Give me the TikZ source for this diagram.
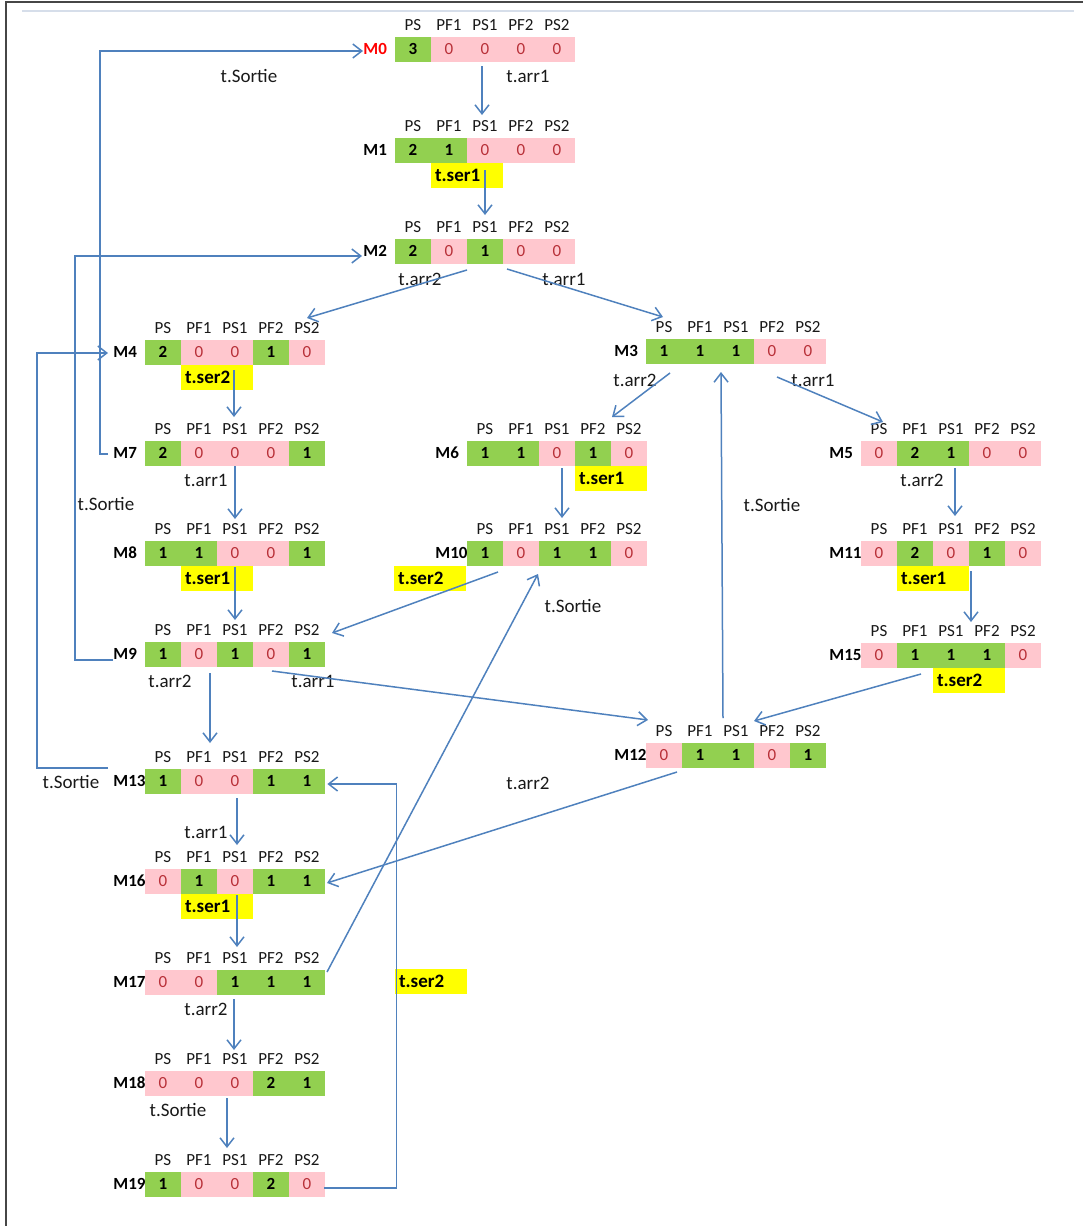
\documentclass[tikz,border=0pt]{standalone}
\usepackage{fontspec}
\setmainfont{Carlito}
\usetikzlibrary{arrows.meta,calc}

\definecolor{cellg}{RGB}{146,208,80}
\definecolor{cellp}{RGB}{255,199,206}
\definecolor{txtg}{RGB}{0,0,0}
\definecolor{txtp}{RGB}{184,48,56}
\definecolor{linkblue}{RGB}{79,129,189}
\definecolor{tagyellow}{RGB}{255,255,0}
\definecolor{framegray}{RGB}{70,70,70}
\definecolor{rulegray}{RGB}{214,222,234}

% column headers of a marking
\newcommand\hdrname[1]{\ifcase#1\or PS\or PF1\or PS1\or PF2\or PS2\fi}
% weight of the value in a filled / empty cell
\newcommand\wtg{\bfseries}
\newcommand\wtp{\mdseries}

% one marking: id, name, left x, centre y, list of colour/value pairs
\newcommand\mk[5]{%
  \node[mlab] (#1l) at (#3-32,#4) {#2};
  \foreach[count=\i] \s/\v in {#5}{
    \node[cell, fill=cell\s, text=txt\s] (#1c\i) at ({#3+36*\i-18},#4) {\csname wt\s\endcsname\v};
    \node[hdr] (#1h\i) at ({#3+36*\i-18},#4-24) {\hdrname\i};
  }%
}

\tikzset{
  cell/.style={minimum width=18pt, minimum height=12.5pt, inner sep=0pt,
    font=\fontsize{8.5}{10}\selectfont},
  hdr/.style={inner sep=0pt, text=black!90, font=\fontsize{8.5}{10}\selectfont},
  mlab/.style={anchor=west, inner sep=0pt, font=\fontsize{8.5}{10}\selectfont\bfseries},
  tlab/.style={inner sep=0pt, text=black!90, font=\fontsize{9.5}{11}\selectfont},
  ylab/.style={fill=tagyellow, minimum height=12.5pt, text width=32pt, align=left,
    inner xsep=2pt, inner ysep=0pt, font=\fontsize{9.5}{11}\selectfont\bfseries},
  conn/.style={draw=linkblue, line width=0.75pt,
    -{Straight Barb[length=4.5pt,width=7pt,line width=0.75pt]}},
}

\begin{document}
\begin{tikzpicture}[x=0.5pt,y=-0.5pt]
\useasboundingbox (0,0) rectangle (1083,1226);

% page frame
\draw[framegray, line width=1pt] (5.5,1226) -- (5.5,2) -- (1083,2);
\draw[rulegray, line width=1.2pt] (22,11) -- (1074,11);

% markings
\mk{m0}{\textcolor{red}{M0}}{395}{49}{g/3,p/0,p/0,p/0,p/0}
\mk{m1}{M1}{395}{150}{g/2,g/1,p/0,p/0,p/0}
\mk{m2}{M2}{395}{251}{g/2,p/0,g/1,p/0,p/0}
\mk{m4}{M4}{145}{352}{g/2,p/0,p/0,g/1,p/0}
\mk{m3}{M3}{646}{351}{g/1,g/1,g/1,p/0,p/0}
\mk{m7}{M7}{145}{453}{g/2,p/0,p/0,p/0,g/1}
\mk{m6}{M6}{467}{453}{g/1,g/1,p/0,g/1,p/0}
\mk{m5}{M5}{861}{453}{p/0,g/2,g/1,p/0,p/0}
\mk{m8}{M8}{145}{553}{g/1,g/1,p/0,p/0,g/1}
\mk{m10}{M10}{467}{553}{g/1,p/0,g/1,g/1,p/0}
\mk{m11}{M11}{861}{553}{p/0,g/2,p/0,g/1,p/0}
\mk{m9}{M9}{145}{654}{g/1,p/0,g/1,p/0,g/1}
\mk{m15}{M15}{861}{655}{p/0,g/1,g/1,g/1,p/0}
\mk{m12}{M12}{646}{755}{p/0,g/1,g/1,p/0,g/1}
\mk{m13}{M13}{145}{781}{g/1,p/0,p/0,g/1,g/1}
\mk{m16}{M16}{145}{881}{p/0,g/1,p/0,g/1,g/1}
\mk{m17}{M17}{145}{982}{p/0,p/0,g/1,g/1,g/1}
\mk{m18}{M18}{145}{1083}{p/0,p/0,p/0,g/2,g/1}
\mk{m19}{M19}{145}{1184}{g/1,p/0,p/0,g/2,p/0}

% service transitions (yellow tags)
\node[ylab, anchor=north west] (s1) at (m1c2.south west) {t.ser1};
\node[ylab, anchor=north west] (s4) at (m4c2.south west) {t.ser2};
\node[ylab, anchor=north west] (s6) at (m6c4.south west) {t.ser1};
\node[ylab, anchor=north west] (s8) at (m8c2.south west) {t.ser1};
\node[ylab, anchor=north east] (s10) at (m10c1.south west) {t.ser2};
\node[ylab, anchor=north west] (s11) at (m11c2.south west) {t.ser1};
\node[ylab, anchor=north west] (s15) at (m15c3.south west) {t.ser2};
\node[ylab, anchor=north west] (s16) at (m16c2.south west) {t.ser1};
\node[ylab] (s19) at (431,981.5) {t.ser2};

% other transition labels
\node[tlab] (t0a) at (249,76) {t.Sortie};
\node[tlab] (t0b) at (528,76) {t.arr1};
\node[tlab] (t2a) at (420,279) {t.arr2};
\node[tlab] (t2b) at (564,279) {t.arr1};
\node[tlab] (t3a) at (635,380) {t.arr2};
\node[tlab] (t3b) at (813,380) {t.arr1};
\node[tlab] (t7) at (206,480) {t.arr1};
\node[tlab] (tl1) at (106,504) {t.Sortie};
\node[tlab] (t5) at (922,480) {t.arr2};
\node[tlab] (t12) at (772,505) {t.Sortie};
\node[tlab] (t17) at (573,606) {t.Sortie};
\node[tlab] (t9a) at (170,681) {t.arr2};
\node[tlab] (t9b) at (313,681) {t.arr1};
\node[tlab] (tl2) at (71,782) {t.Sortie};
\node[tlab] (t12b) at (528,783) {t.arr2};
\node[tlab] (t13) at (206,832) {t.arr1};
\node[tlab] (t17b) at (206,1009) {t.arr2};
\node[tlab] (t18) at (178,1110) {t.Sortie};

% transitions between markings
\draw[conn] ($(m0c3)+(-3,17)$) -- ($(m1c3)+(-3,-35)$);
\draw[conn] ($(m1c3)+(0,20)$) -- ($(m2c3)+(0,-36)$);
\draw[conn] ($(m2c3)+(-18,19)$) -- ($(m4c5)+(0,-34)$);
\draw[conn] ($(m2c4)+(-14,18)$) -- ($(m3c1)+(-1,-34)$);
\draw[conn] ($(m3c1)+(6,22)$) -- ($(m6c5)+(-17,-36)$);
\draw[conn] ($(m3c4)+(5,26)$) -- ($(m5c1)+(4,-31)$);
\draw[conn] ($(m4c3)+(-1,18)$) -- ($(m7c3)+(-1,-36)$);
\draw[conn] ($(m7c3)+(0,13)$) -- ($(m8c3)+(0,-34)$);
\draw[conn] ($(m6c3)+(5,15)$) -- ($(m10c3)+(5,-35)$);
\draw[conn] ($(m5c3)+(4,15)$) -- ($(m11c3)+(4,-37)$);
\draw[conn] ($(m8c3)+(0,14)$) -- ($(m9c3)+(0,-34)$);
\draw[conn] ($(m10c1)+(13,19)$) -- ($(m9c5)+(25,-21)$);
\draw[conn] ($(m11c4)+(-16,18)$) -- ($(m15c4)+(-16,-33)$);
\draw[conn] ($(m9c2)+(11,19)$) -- ($(m13c2)+(11,-38)$);
\draw[conn] ($(m9c4)+(1,17)$) -- ($(m12c1)+(-16,-35)$);
\draw[conn] ($(m15c2)+(6,19)$) -- ($(m12c4)+(-18,-34)$);
\draw[conn] ($(m12c3)+(-13,-37)$) -- ($(m3c3)+(-15,21)$);
\draw[conn] ($(m12c1)+(13,17)$) -- ($(m16c5)+(20,2)$);
\draw[conn] ($(m13c3)+(2,17)$) -- ($(m16c3)+(2,-36)$);
\draw[conn] ($(m16c3)+(2,14)$) -- ($(m17c3)+(2,-35)$);
\draw[conn] ($(m17c5)+(20,-10)$) -- ($(m10c3)+(-19,21)$);
\draw[conn] ($(m17c3)+(-1,17)$) -- ($(m18c3)+(-1,-33)$);
\draw[conn] ($(m18c3)+(-8,15)$) -- ($(m19c3)+(-8,-36)$);

% return loops
\draw[conn] ($(m19c5.east)+(-1,4)$) -- ++(72,0) |- ($(m13c5.east)+(2,3)$);
\draw[conn] ($(m7l.west)+(-5,1)$) -- ++(-8,0) |- ($(m0l.west)+(0,2)$);
\draw[conn] ($(m9l.west)+(0,6)$) -- ++(-38,0) |- ($(m2l.west)+(-1,5)$);
\draw[conn] ($(m13l.west)+(-5,-13)$) -- ++(-71,0) |- ($(m4l.west)+(-5,1)$);
\end{tikzpicture}
\end{document}
